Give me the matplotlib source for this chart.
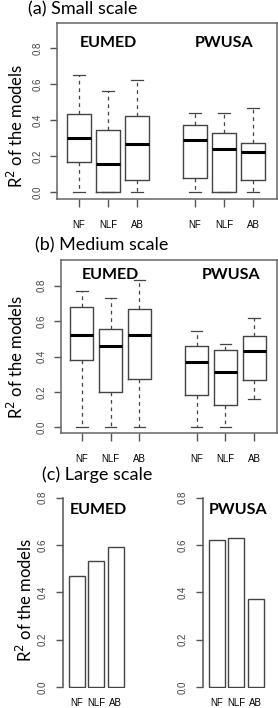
import numpy as np
import matplotlib
matplotlib.use('Agg')
import matplotlib.pyplot as plt

# ---- data ----
groups = ['NF', 'NLF', 'AB', 'NF', 'NLF', 'AB']
box_pos = [1, 2, 3, 5, 6, 7]

# (a) small scale: EUMED NF, NLF, AB, PWUSA NF, NLF, AB
small_whislo = [0.0, 0.0, 0.0, 0.0, 0.0, 0.0]
small_q1 = [0.165, 0.0, 0.065, 0.08, 0.0, 0.068]
small_med = [0.30, 0.155, 0.265, 0.29, 0.24, 0.22]
small_q3 = [0.435, 0.345, 0.42, 0.37, 0.325, 0.272]
small_whishi = [0.65, 0.56, 0.625, 0.44, 0.44, 0.465]

# (b) medium scale
medium_whislo = [0.0, 0.0, 0.0, 0.0, 0.0, 0.16]
medium_q1 = [0.38, 0.20, 0.275, 0.18, 0.125, 0.27]
medium_med = [0.52, 0.46, 0.52, 0.37, 0.31, 0.43]
medium_q3 = [0.68, 0.555, 0.67, 0.46, 0.435, 0.515]
medium_whishi = [0.77, 0.73, 0.83, 0.545, 0.47, 0.62]

# (c) large scale
bar_labels = ['NF', 'NLF', 'AB']
large_eumed = [0.47, 0.53, 0.59]
large_pwusa = [0.62, 0.63, 0.37]

yticks = [0.0, 0.2, 0.4, 0.6, 0.8]

W, H = 278, 708
fig = plt.figure(figsize=(W / 100, H / 100), dpi=100)

TXT = 'Lato'
NUM = 'Liberation Sans'
grey = '#555555'


def px_axes(left, top, right, bottom):
    return fig.add_axes([left / W, 1 - bottom / H, (right - left) / W, (bottom - top) / H])


def fig_text(x, y, s, **kw):
    fig.text(x / W, 1 - y / H, s, **kw)


def box_panel(ax, whislo, q1, med, q3, whishi, xlim, ylim):
    stats = []
    for i in range(len(med)):
        stats.append(dict(whislo=whislo[i], q1=q1[i], med=med[i], q3=q3[i], whishi=whishi[i], fliers=[]))
    ax.bxp(stats, positions=box_pos, widths=0.8, capwidths=0.4, showfliers=False,
           boxprops=dict(color='#444444', linewidth=1.0),
           medianprops=dict(color='black', linewidth=2.2, solid_capstyle='butt'),
           whiskerprops=dict(color='#444444', linewidth=0.9, linestyle=(0, (3, 3))),
           capprops=dict(color='#444444', linewidth=0.9))
    ax.set_xlim(xlim)
    ax.set_ylim(ylim)
    ax.set_xticks(box_pos)
    ax.set_xticklabels(groups, fontfamily=NUM, fontsize=7)
    ax.set_yticks(yticks)
    ax.set_yticklabels(['%.1f' % t for t in yticks], rotation=90, va='center',
                       fontfamily=NUM, fontsize=7, color='#444444')
    ax.tick_params(axis='x', length=6, width=1, color=grey, pad=9)
    ax.tick_params(axis='y', length=5, width=1, color=grey, pad=5)
    for s in ax.spines.values():
        s.set_color('#666666')
        s.set_linewidth(1.1)


def bar_panel(ax, values, name):
    x = 0.2 + 1.2 * np.arange(len(values)) + 0.5
    ax.bar(x, values, width=1.0, color='white', edgecolor='#444444', linewidth=1.0)
    ax.set_xlim(-0.14, 3.8)
    ax.set_ylim(-0.005, 0.87)
    ax.set_xticks(x)
    ax.set_xticklabels(bar_labels, fontfamily=NUM, fontsize=7)
    ax.set_yticks(yticks)
    ax.set_yticklabels(['%.1f' % t for t in yticks], rotation=90, va='center',
                       fontfamily=NUM, fontsize=7, color='#444444')
    ax.tick_params(axis='x', length=0, pad=7)
    ax.tick_params(axis='y', length=5, width=1, color=grey, pad=6)
    for s in ['top', 'right', 'bottom']:
        ax.spines[s].set_visible(False)
    ax.spines['left'].set_bounds(0, 0.8)
    ax.spines['left'].set_color('#555555')
    ax.spines['left'].set_linewidth(1.1)
    ax.text(0.55, 0.86, name, transform=ax.transAxes, ha='center', va='center',
            fontfamily=TXT, fontweight='bold', fontsize=11.5)


# (a) small scale
ax_a = px_axes(57, 23, 277, 199)
box_panel(ax_a, small_whislo, small_q1, small_med, small_q3, small_whishi,
          (0.24, 7.83), (-0.039, 0.939))
ax_a.text(2, 0.83, 'EUMED', ha='center', va='center', fontfamily=TXT, fontweight='bold', fontsize=11.5)
ax_a.text(6, 0.83, 'PWUSA', ha='center', va='center', fontfamily=TXT, fontweight='bold', fontsize=11.5)
fig_text(28, 9, '(a) Small scale', fontfamily=TXT, fontsize=13, va='center', ha='left')
fig_text(16, 126, 'R$^2$ of the models', fontfamily=TXT, fontsize=12, rotation=90, va='center', ha='center')

# (b) medium scale
ax_b = px_axes(61, 260, 277, 433)
box_panel(ax_b, medium_whislo, medium_q1, medium_med, medium_q3, medium_whishi,
          (0.27, 7.8), (-0.032, 0.945))
ax_b.text(2, 0.86, 'EUMED', ha='center', va='center', fontfamily=TXT, fontweight='bold', fontsize=11.5)
ax_b.text(6.2, 0.86, 'PWUSA', ha='center', va='center', fontfamily=TXT, fontweight='bold', fontsize=11.5)
fig_text(35, 245, '(b) Medium scale', fontfamily=TXT, fontsize=13, va='center', ha='left')
fig_text(16, 357, 'R$^2$ of the models', fontfamily=TXT, fontsize=12, rotation=90, va='center', ha='center')

# (c) large scale
ax_c1 = px_axes(63, 481, 127, 688)
bar_panel(ax_c1, large_eumed, 'EUMED')
ax_c2 = px_axes(203, 481, 267, 688)
bar_panel(ax_c2, large_pwusa, 'PWUSA')
fig_text(42, 475, '(c) Large scale', fontfamily=TXT, fontsize=13, va='center', ha='left')
fig_text(25, 600, 'R$^2$ of the models', fontfamily=TXT, fontsize=12, rotation=90, va='center', ha='center')

fig.savefig('out.png', dpi=100)
